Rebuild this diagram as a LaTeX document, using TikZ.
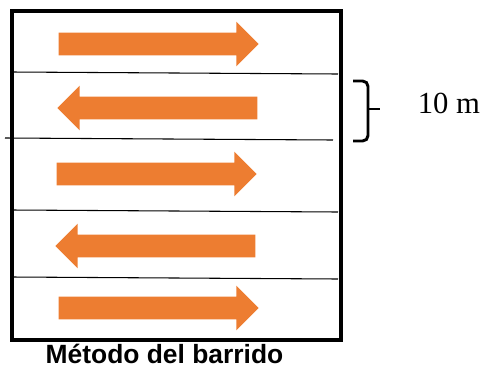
\documentclass[tikz,border=0pt]{standalone}
\usepackage{fontspec}
\setmainfont{Liberation Serif}
\setsansfont{Liberation Sans}
\usetikzlibrary{shapes.arrows}
\definecolor{sweeporange}{HTML}{ED7D31}
\tikzstyle{sweep} = [shape=single arrow, fill=sweeporange, inner xsep=0pt, inner ysep=8.25pt, minimum height=150pt, single arrow head extend=8.25pt, single arrow tip angle=90]
\tikzstyle{strip} = [line width=0.8pt]

\begin{document}
\begin{tikzpicture}[x=0.75pt, y=-0.75pt]
    \useasboundingbox (0,0) rectangle (483,369);
    \draw[line width=2.4pt] (12,11) rectangle (341,340);
    \draw[strip] (12,72) -- (338,74);
    \draw[strip] (5,138) -- (333,140);
    \draw[strip] (12,210) -- (338,212);
    \draw[strip] (12,277) -- (338,279);
    \node[sweep] (a1) at (153,44) {};
    \node[sweep, shape border rotate=180] (a2) at (163,108) {};
    \node[sweep] (a3) at (151,174) {};
    \node[sweep, shape border rotate=180] (a4) at (161,246) {};
    \node[sweep] (a5) at (153,308) {};
    \draw[line width=2.2pt, rounded corners=4pt] (353,81) -- (368,81) -- (368,109) -- (368,141) -- (353,141);
    \draw[line width=2.2pt] (367,109) -- (380,109);
    \node[font=\fontsize{23}{26}\selectfont] (len) at (449,103) {10 m};
    \node[anchor=base, font=\sffamily\bfseries\fontsize{19.8}{22}\selectfont] (title) at (164.5,363) {Método del barrido};
\end{tikzpicture}
\end{document}
